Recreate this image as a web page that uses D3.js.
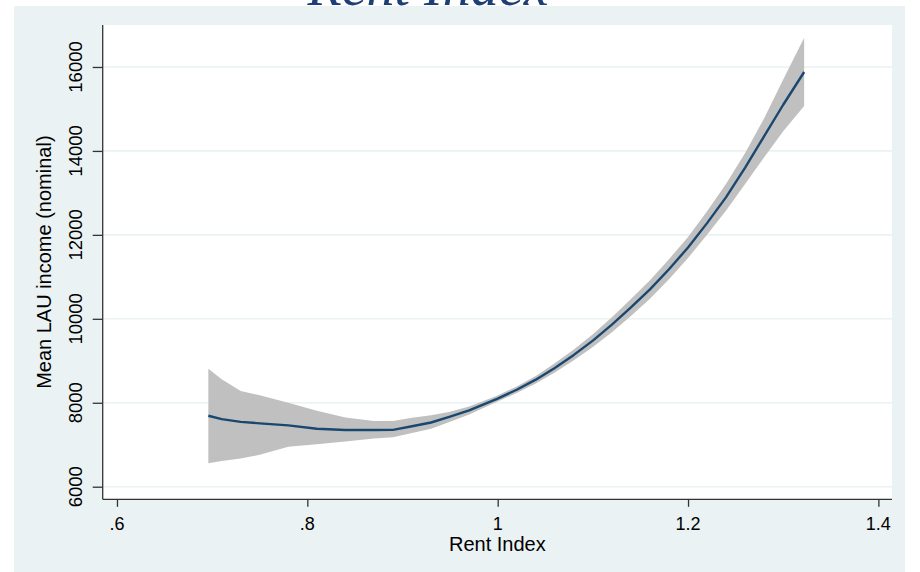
<!DOCTYPE html>
<html>
<head>
<meta charset="utf-8">
<script src="https://cdn.jsdelivr.net/npm/d3@7"></script>
<style>
  html, body { margin: 0; padding: 0; background: #ffffff; }
  svg { display: block; }
  text { font-family: "Liberation Sans", Arial, sans-serif; fill: #000; }
</style>
</head>
<body>
<svg id="chart" width="920" height="572"></svg>
<script>
// Local polynomial fit of mean LAU income on the rent index, with 95% CI band
const rentIndex = [0.696, 0.71, 0.73, 0.75, 0.78, 0.81, 0.84, 0.87, 0.89, 0.91,
                   0.93, 0.95, 0.97, 1.00, 1.02, 1.04, 1.06, 1.08, 1.10, 1.12,
                   1.14, 1.16, 1.18, 1.20, 1.22, 1.24, 1.26, 1.28, 1.30, 1.322];
const fittedIncome = [7690, 7610, 7545, 7510, 7460, 7380, 7350, 7350, 7355, 7440,
                      7530, 7670, 7820, 8100, 8310, 8550, 8830, 9140, 9480, 9860,
                      10270, 10700, 11180, 11700, 12280, 12900, 13600, 14350, 15100, 15880];
const ciUpper = [8812, 8560, 8280, 8180, 8000, 7810, 7650, 7568, 7568, 7640,
                 7700, 7785, 7910, 8175, 8390, 8640, 8940, 9270, 9630, 10040,
                 10470, 10920, 11420, 11950, 12560, 13220, 13950, 14780, 15700, 16697];
const ciLower = [6559, 6610, 6670, 6760, 6950, 7010, 7080, 7150, 7180, 7280,
                 7380, 7550, 7720, 8030, 8230, 8460, 8720, 9010, 9330, 9680,
                 10070, 10480, 10940, 11450, 12000, 12580, 13210, 13850, 14470, 15068];

const xTicks = [0.6, 0.8, 1.0, 1.2, 1.4];
const xTickLabels = [".6", ".8", "1", "1.2", "1.4"];
const yTicks = [6000, 8000, 10000, 12000, 14000, 16000];

const svg = d3.select("#chart");

// slide heading, mostly above the frame
svg.append("text")
  .attr("x", 428).attr("y", 5)
  .attr("text-anchor", "middle")
  .style("font-family", "'Liberation Serif', 'Times New Roman', serif")
  .style("font-style", "italic")
  .style("font-size", "56px")
  .style("fill", "#1d3f75")
  .text("Rent Index");

// outer graph region
svg.append("rect")
  .attr("x", 14).attr("y", 6).attr("width", 891).attr("height", 566)
  .attr("fill", "#eaf2f3");

const plot = { left: 102.7, right: 892, top: 25, bottom: 499.3 };

const x = d3.scaleLinear().domain([0.585, 1.4143]).range([plot.left, plot.right]);
const y = d3.scaleLinear().domain([5700, 17000]).range([plot.bottom, plot.top]);

// plot region
svg.append("rect")
  .attr("x", plot.left).attr("y", plot.top)
  .attr("width", plot.right - plot.left).attr("height", plot.bottom - plot.top)
  .attr("fill", "#ffffff");

// horizontal grid
svg.append("g").selectAll("line").data(yTicks).join("line")
  .attr("x1", plot.left).attr("x2", plot.right)
  .attr("y1", d => y(d)).attr("y2", d => y(d))
  .attr("stroke", "#eaf2f3").attr("stroke-width", 1.6);

const rows = rentIndex.map((r, i) => ({ r, fit: fittedIncome[i], lo: ciLower[i], hi: ciUpper[i] }));

// confidence band
svg.append("path")
  .datum(rows)
  .attr("fill", "#c0c0c0")
  .attr("d", d3.area().x(d => x(d.r)).y0(d => y(d.lo)).y1(d => y(d.hi)));

// fitted line
svg.append("path")
  .datum(rows)
  .attr("fill", "none")
  .attr("stroke", "#1a476f")
  .attr("stroke-width", 2.4)
  .attr("stroke-linejoin", "round")
  .attr("d", d3.line().x(d => x(d.r)).y(d => y(d.fit)));

// y axis
const yAxis = svg.append("g")
  .attr("transform", `translate(${plot.left},0)`)
  .call(d3.axisLeft(y).tickValues(yTicks).tickSize(10).tickSizeOuter(0).tickFormat(""));
yAxis.select(".domain").attr("d", `M0,${plot.top}V${plot.bottom}`);
yAxis.selectAll("path, line").attr("stroke", "#333").attr("stroke-width", 1.3);

svg.append("g").selectAll("text").data(yTicks).join("text")
  .attr("transform", d => `translate(82,${y(d)}) rotate(-90)`)
  .attr("text-anchor", "middle")
  .style("font-size", "18.5px")
  .text(d => d);

// x axis
const xAxis = svg.append("g")
  .attr("transform", `translate(0,${plot.bottom})`)
  .call(d3.axisBottom(x).tickValues(xTicks).tickSize(7.5).tickSizeOuter(0).tickFormat(""));
xAxis.select(".domain").attr("d", `M${plot.left},0H${plot.right}`);
xAxis.selectAll("path, line").attr("stroke", "#333").attr("stroke-width", 1.3);

svg.append("g").selectAll("text").data(xTicks).join("text")
  .attr("x", d => x(d)).attr("y", 529.5)
  .attr("text-anchor", "middle")
  .style("font-size", "18px")
  .text((d, i) => xTickLabels[i]);

// axis titles
svg.append("text")
  .attr("x", (plot.left + plot.right) / 2).attr("y", 550.5)
  .attr("text-anchor", "middle")
  .style("font-size", "20px")
  .text("Rent Index");

svg.append("text")
  .attr("transform", `translate(51,${(plot.top + plot.bottom) / 2}) rotate(-90)`)
  .attr("text-anchor", "middle")
  .style("font-size", "20px")
  .text("Mean LAU income (nominal)");
</script>
</body>
</html>
